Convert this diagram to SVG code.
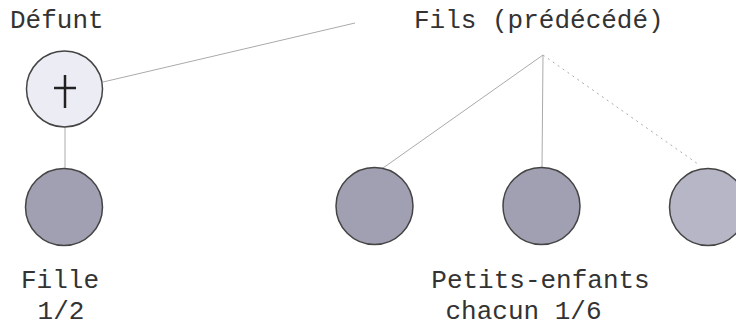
<svg xmlns="http://www.w3.org/2000/svg" width="736" height="327" viewBox="0 0 736 327">
<style>
.t{font-family:"Liberation Mono","Courier New",monospace;font-size:26px;fill:#333}
.c{stroke:#444;stroke-width:1.5}
.g{fill:#a0a0b2}
.l{stroke:#aaa;stroke-width:1;fill:none}
</style>
<rect width="736" height="327" fill="#fff"/>
<g id="connectors">
<line class="l" x1="103" y1="82" x2="355" y2="23"/>
<line class="l" x1="65" y1="127" x2="65" y2="169"/>
<line class="l" x1="543" y1="55" x2="383" y2="168"/>
<line class="l" x1="543" y1="55" x2="542" y2="168"/>
<line class="l" x1="543" y1="55" x2="698" y2="164" stroke="#d4d4d4" stroke-dasharray="2 4"/>
</g>
<g id="defunt">
<text class="t" x="10" y="28">Défunt</text>
<circle class="c" cx="64.5" cy="89" r="38" fill="#ececf4"/>
<line x1="65" y1="75" x2="65" y2="108" stroke="#222" stroke-width="2.5"/>
<line x1="54" y1="88" x2="76" y2="88" stroke="#222" stroke-width="2.5"/>
</g>
<g id="fils">
<text class="t" x="414" y="28">Fils (prédécédé)</text>
</g>
<g id="fille">
<circle class="c g" cx="64" cy="207" r="38.5"/>
<text class="t" x="60" y="288" text-anchor="middle">Fille</text>
<text class="t" x="61" y="319" text-anchor="middle">1/2</text>
</g>
<g id="petit1"><circle class="c g" cx="374.5" cy="206" r="38.5"/></g>
<g id="petit2"><circle class="c g" cx="541.5" cy="206" r="38.5"/></g>
<g id="petit3"><circle class="c" cx="708" cy="207" r="38.5" fill="#b6b6c6" stroke="#666"/></g>
<g id="labels">
<text class="t" x="540.5" y="288" text-anchor="middle">Petits-enfants</text>
<text class="t" x="523.5" y="319" text-anchor="middle">chacun 1/6</text>
</g>
</svg>
